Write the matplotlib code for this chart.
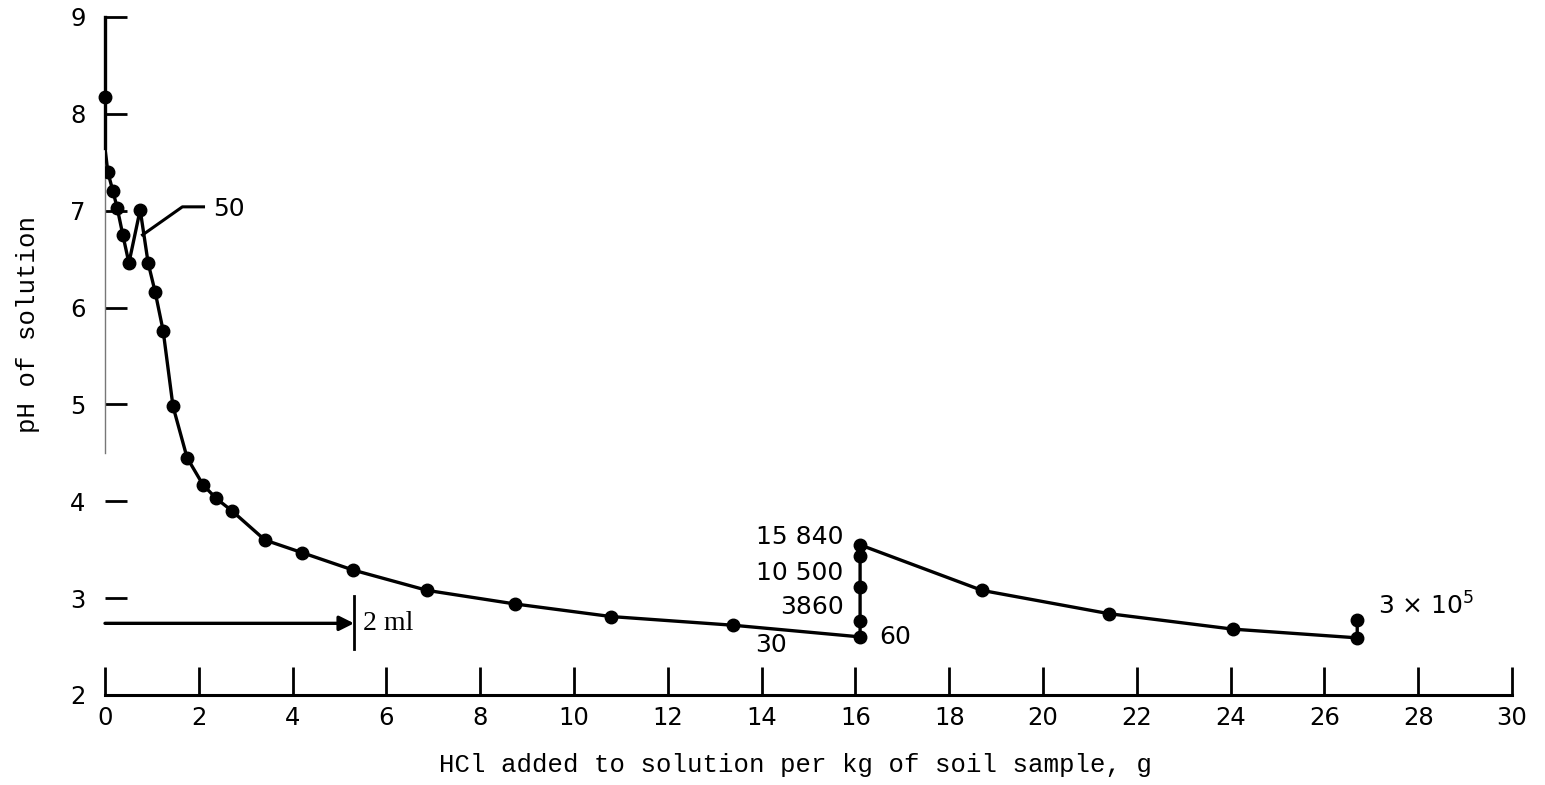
import matplotlib
matplotlib.use("Agg")
import matplotlib.pyplot as plt

# Data (HCl g/kg vs pH)
hcl_g = [0.0, 0.06, 0.17, 0.26, 0.38, 0.51, 0.75, 0.92, 1.07, 1.24, 1.45, 1.75,
         2.09, 2.37, 2.71, 3.41, 4.20, 5.29, 6.87, 8.74, 10.79, 13.40,
         16.10, 16.10, 16.10, 16.10, 16.10, 18.70, 21.40, 24.05, 26.70, 26.70]
ph = [7.65, 7.40, 7.20, 7.03, 6.75, 6.46, 7.01, 6.46, 6.16, 5.76, 4.98, 4.45,
      4.17, 4.03, 3.90, 3.60, 3.47, 3.29, 3.08, 2.94, 2.81, 2.72,
      2.60, 2.76, 3.11, 3.43, 3.55, 3.08, 2.84, 2.68, 2.59, 2.77]
initial_x = [0.0]
initial_ph = [8.17]

xticks = list(range(0, 31, 2))
yticks = [2, 3, 4, 5, 6, 7, 8, 9]

sans = "DejaVu Sans"
mono = "Liberation Mono"

fig = plt.figure(figsize=(15.45, 7.85), dpi=100)
ax = fig.add_axes([105/1545, 1-695/785, (1512-105)/1545, (695-17)/785])
ax.set_xlim(0, 30)
ax.set_ylim(2, 9)

ax.plot(hcl_g, ph, color="black", lw=2.4, zorder=3)
ax.plot(hcl_g[1:], ph[1:], 'o', color="black", ms=9, zorder=4)
ax.plot(initial_x, initial_ph, 'o', color="black", ms=9, zorder=4, clip_on=False)

for s in ["top", "right"]:
    ax.spines[s].set_visible(False)
ax.spines["bottom"].set_linewidth(2.2)
ax.spines["left"].set_linewidth(1.0)
ax.spines["left"].set_color("#777777")
ax.spines["left"].set_bounds(4.5, 9)
ax.axvline(0, ymin=(7.65-2)/7, ymax=1.0, color="black", lw=2.4, zorder=3, clip_on=False)

ax.set_xticks(xticks)
ax.set_yticks(yticks)
ax.tick_params(axis="x", direction="in", length=20, width=2, pad=8, labelsize=17.5)
ax.tick_params(axis="y", direction="in", length=16, width=2, pad=14, labelsize=17.5)
for lab in ax.get_xticklabels() + ax.get_yticklabels():
    lab.set_family(sans)

ax.set_xlabel("HCl added to solution per kg of soil sample, g", family=mono,
              fontsize=18.5)
ax.set_ylabel("pH of solution", family=mono, fontsize=18.5)
ax.xaxis.label.set_verticalalignment("baseline")
ax.xaxis.set_label_coords(0.491, -0.1136)
ax.yaxis.label.set_verticalalignment("center")
ax.yaxis.set_label_coords(-0.0547, 0.546)

# annotations
ax.plot([0.8, 1.65, 2.1], [6.75, 7.04, 7.04], color="black", lw=2.2, zorder=3)
ax.text(2.3, 7.02, "50", family=sans, fontsize=18, va="center", ha="left")

ax.text(15.75, 3.63, "15 840", family=sans, fontsize=18, va="center", ha="right")
ax.text(15.75, 3.26, "10 500", family=sans, fontsize=18, va="center", ha="right")
ax.text(15.75, 2.91, "3860", family=sans, fontsize=18, va="center", ha="right")
ax.text(14.2, 2.52, "30", family=sans, fontsize=18, va="center", ha="center")
ax.text(16.5, 2.60, "60", family=sans, fontsize=18, va="center", ha="left")
ax.text(27.15, 2.92, r"3 $\times$ 10$^{5}$", family=sans, fontsize=18, va="center", ha="left")

# 2 ml arrow
ax.annotate("", xy=(5.31, 2.74), xytext=(0.0, 2.74),
            arrowprops=dict(arrowstyle="-|>", color="black", lw=2.4,
                            mutation_scale=22, shrinkA=0, shrinkB=0))
ax.plot([5.31, 5.31], [2.47, 3.02], color="black", lw=2.0)
ax.text(5.5, 2.74, "2 ml", family="Liberation Serif", fontsize=20, va="center", ha="left")

fig.savefig("out.png", dpi=100)
